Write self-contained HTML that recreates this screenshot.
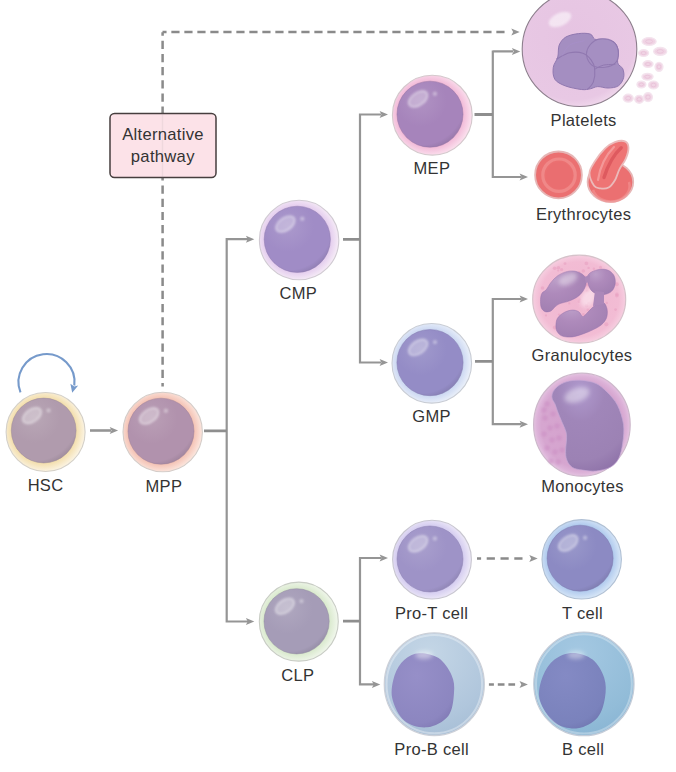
<!DOCTYPE html>
<html><head><meta charset="utf-8"><style>
html,body{margin:0;padding:0;background:#fff;}
svg{display:block;}
text{font-family:"Liberation Sans",sans-serif;fill:#333333;letter-spacing:0.3px;}
</style></head><body>
<svg width="676" height="772" viewBox="0 0 676 772">
<defs>
<filter id="blur2" x="-50%" y="-50%" width="200%" height="200%"><feGaussianBlur stdDeviation="2"/></filter>
<filter id="blur1" x="-50%" y="-50%" width="200%" height="200%"><feGaussianBlur stdDeviation="1"/></filter>
<filter id="blur05" x="-20%" y="-20%" width="140%" height="140%"><feGaussianBlur stdDeviation="0.5"/></filter>
</defs>
<g stroke="#959595" stroke-width="2.2" fill="none">
<path d="M226.7,238 V622.5 M226.7,239.2 H248 M226.7,621.5 H248"/>
<path d="M360,113.5 V363.5 M360,114.5 H381 M360,362.5 H381"/>
<path d="M492.8,50.5 V178 M492.8,51.4 H513 M492.8,177 H521"/>
<path d="M492.8,298 V425.2 M492.8,299 H521 M492.8,424.2 H521"/>
<path d="M360,557 V685.4 M360,558 H381 M360,684.4 H374"/>
<path d="M204,430.8 H226.7 M343,239.3 H360 M474.5,114.5 H492.8 M475,361.3 H492.8 M343,621.2 H360" stroke-width="2.8" stroke="#8e8e8e"/>
<path d="M90,430.5 H111" stroke-width="2.6"/>
</g>
<g stroke="#8a8a8a" stroke-width="2.5" fill="none">
<path d="M162.6,386.5 V32.2" stroke-dasharray="8.2 4.96" stroke-dashoffset="4.66"/>
<path d="M162.5,32 H508" stroke-dasharray="8.2 4.8" stroke-dashoffset="4.15"/>
<path d="M477,558.5 H525" stroke-dasharray="8.2 5.6" stroke-dashoffset="4.1"/>
<path d="M488.9,684.4 H515.5" stroke-dasharray="6.7 3.9" stroke-dashoffset="1.7"/>
</g>
<path d="M254.3,239.2 L245.9,235.7 L247.70000000000002,239.2 L245.9,242.7 Z" fill="#959595"/>

<path d="M254.3,621.5 L245.9,618.0 L247.70000000000002,621.5 L245.9,625.0 Z" fill="#959595"/>

<path d="M388,114.5 L379.6,111.0 L381.4,114.5 L379.6,118.0 Z" fill="#959595"/>

<path d="M388,362.5 L379.6,359.0 L381.4,362.5 L379.6,366.0 Z" fill="#959595"/>

<path d="M388,558 L379.6,554.5 L381.4,558 L379.6,561.5 Z" fill="#959595"/>

<path d="M380.3,684.4 L371.90000000000003,680.9 L373.7,684.4 L371.90000000000003,687.9 Z" fill="#959595"/>

<path d="M520.3,51.4 L511.9,47.9 L513.6999999999999,51.4 L511.9,54.9 Z" fill="#959595"/>

<path d="M528,177 L519.6,173.5 L521.4,177 L519.6,180.5 Z" fill="#959595"/>

<path d="M528,299 L519.6,295.5 L521.4,299 L519.6,302.5 Z" fill="#959595"/>

<path d="M528,424.2 L519.6,420.7 L521.4,424.2 L519.6,427.7 Z" fill="#959595"/>

<path d="M118.1,430.5 L109.69999999999999,427.0 L111.5,430.5 L109.69999999999999,434.0 Z" fill="#959595"/>

<path d="M519.7,32 L511.30000000000007,28.5 L513.1,32 L511.30000000000007,35.5 Z" fill="#959595"/>

<path d="M537.7,558.5 L529.3000000000001,555.0 L531.1,558.5 L529.3000000000001,562.0 Z" fill="#959595"/>

<path d="M527.9,684.4 L519.5,680.9 L521.3,684.4 L519.5,687.9 Z" fill="#959595"/>

<path d="M20.5,392.3 A28,28 0 1 1 74.3,385.5" stroke="#769acb" stroke-width="2.1" fill="none"/>
<path d="M72.2,392.8 L70.4,383.8 L74.3,386.6 L78.2,385.6 Z" fill="#769acb"/>
<rect x="110" y="113.5" width="106" height="64" rx="4.5" fill="#fce2e8" stroke="#463e3e" stroke-width="1.5"/>
<line x1="162.5" y1="113.5" x2="162.5" y2="177.5" stroke="#959595" stroke-width="1.5" opacity="0.12"/>
<text x="163" y="140" font-size="16.6" text-anchor="middle">Alternative</text>

<text x="162.8" y="161.7" font-size="16.6" text-anchor="middle">pathway</text>


<radialGradient id="chsc" gradientUnits="userSpaceOnUse" cx="43.7" cy="430.5" r="41.8">
  <stop offset="0" stop-color="#f3deac"/>
  <stop offset="0.775" stop-color="#f3deac"/>
  <stop offset="1" stop-color="#fcf5e6"/>
</radialGradient>
<radialGradient id="nhsc" cx="0.36" cy="0.3" r="0.78">
  <stop offset="0" stop-color="#b9a7b6"/>
  <stop offset="0.5" stop-color="#b09bad"/>
  <stop offset="0.85" stop-color="#b09bad"/>
  <stop offset="1" stop-color="#9a8898"/>
</radialGradient>
<circle cx="45.6" cy="432" r="39.5" fill="url(#chsc)" stroke="#d4d0c8" stroke-width="1.1"/>
<circle cx="43.7" cy="430.5" r="32.4" fill="url(#nhsc)" stroke="#9a8898" stroke-width="0.9" stroke-opacity="0.55"/>
<ellipse cx="32.0" cy="415.6" rx="10.4" ry="6.2" transform="rotate(-35 32.0 415.6)" fill="#ffffff" fill-opacity="0.28" stroke="#ffffff" stroke-width="1.6" stroke-opacity="0.45" filter="url(#blur1)"/>
<circle cx="48.6" cy="410.4" r="2.2" fill="#ffffff" opacity="0.35" filter="url(#blur1)"/>

<radialGradient id="cmpp" gradientUnits="userSpaceOnUse" cx="161" cy="431.2" r="41.7">
  <stop offset="0" stop-color="#f4c2b4"/>
  <stop offset="0.791" stop-color="#f4c2b4"/>
  <stop offset="1" stop-color="#fce8e0"/>
</radialGradient>
<radialGradient id="nmpp" cx="0.36" cy="0.3" r="0.78">
  <stop offset="0" stop-color="#ba9fb6"/>
  <stop offset="0.5" stop-color="#b192ad"/>
  <stop offset="0.85" stop-color="#b192ad"/>
  <stop offset="1" stop-color="#9b8098"/>
</radialGradient>
<circle cx="162.7" cy="432" r="39.7" fill="url(#cmpp)" stroke="#d4ccc8" stroke-width="1.1"/>
<circle cx="161" cy="431.2" r="33" fill="url(#nmpp)" stroke="#9b8098" stroke-width="0.9" stroke-opacity="0.55"/>
<ellipse cx="149.1" cy="416.0" rx="10.6" ry="6.3" transform="rotate(-35 149.1 416.0)" fill="#ffffff" fill-opacity="0.28" stroke="#ffffff" stroke-width="1.6" stroke-opacity="0.45" filter="url(#blur1)"/>
<circle cx="165.9" cy="410.7" r="2.2" fill="#ffffff" opacity="0.35" filter="url(#blur1)"/>

<radialGradient id="ccmp" gradientUnits="userSpaceOnUse" cx="297.3" cy="239.3" r="41.9">
  <stop offset="0" stop-color="#e4cdee"/>
  <stop offset="0.791" stop-color="#e4cdee"/>
  <stop offset="1" stop-color="#f7eef7"/>
</radialGradient>
<radialGradient id="ncmp" cx="0.36" cy="0.3" r="0.78">
  <stop offset="0" stop-color="#ab99cc"/>
  <stop offset="0.5" stop-color="#a08cc6"/>
  <stop offset="0.85" stop-color="#a08cc6"/>
  <stop offset="1" stop-color="#8c7bae"/>
</radialGradient>
<circle cx="299.1" cy="240" r="39.7" fill="url(#ccmp)" stroke="#d0cad2" stroke-width="1.1"/>
<circle cx="297.3" cy="239.3" r="33.1" fill="url(#ncmp)" stroke="#8c7bae" stroke-width="0.9" stroke-opacity="0.55"/>
<ellipse cx="285.4" cy="224.1" rx="10.6" ry="6.3" transform="rotate(-35 285.4 224.1)" fill="#ffffff" fill-opacity="0.28" stroke="#ffffff" stroke-width="1.6" stroke-opacity="0.45" filter="url(#blur1)"/>
<circle cx="302.3" cy="218.8" r="2.2" fill="#ffffff" opacity="0.35" filter="url(#blur1)"/>

<radialGradient id="cmep" gradientUnits="userSpaceOnUse" cx="430" cy="114.2" r="42.7">
  <stop offset="0" stop-color="#f2bad8"/>
  <stop offset="0.774" stop-color="#f2bad8"/>
  <stop offset="1" stop-color="#fce4f0"/>
</radialGradient>
<radialGradient id="nmep" cx="0.36" cy="0.3" r="0.78">
  <stop offset="0" stop-color="#b092c3"/>
  <stop offset="0.5" stop-color="#a684bb"/>
  <stop offset="0.85" stop-color="#a684bb"/>
  <stop offset="1" stop-color="#9274a4"/>
</radialGradient>
<circle cx="432.3" cy="115.2" r="39.9" fill="url(#cmep)" stroke="#d4c8cc" stroke-width="1.1"/>
<circle cx="430" cy="114.2" r="33" fill="url(#nmep)" stroke="#9274a4" stroke-width="0.9" stroke-opacity="0.55"/>
<ellipse cx="418.1" cy="99.0" rx="10.6" ry="6.3" transform="rotate(-35 418.1 99.0)" fill="#ffffff" fill-opacity="0.28" stroke="#ffffff" stroke-width="1.6" stroke-opacity="0.45" filter="url(#blur1)"/>
<circle cx="434.9" cy="93.7" r="2.2" fill="#ffffff" opacity="0.35" filter="url(#blur1)"/>

<radialGradient id="cgmp" gradientUnits="userSpaceOnUse" cx="430" cy="362.6" r="42.0">
  <stop offset="0" stop-color="#ccd8f2"/>
  <stop offset="0.789" stop-color="#ccd8f2"/>
  <stop offset="1" stop-color="#edf2fa"/>
</radialGradient>
<radialGradient id="ngmp" cx="0.36" cy="0.3" r="0.78">
  <stop offset="0" stop-color="#a099cc"/>
  <stop offset="0.5" stop-color="#948cc6"/>
  <stop offset="0.85" stop-color="#948cc6"/>
  <stop offset="1" stop-color="#827bae"/>
</radialGradient>
<circle cx="431.8" cy="363.3" r="39.8" fill="url(#cgmp)" stroke="#c8ccd4" stroke-width="1.1"/>
<circle cx="430" cy="362.6" r="33.1" fill="url(#ngmp)" stroke="#827bae" stroke-width="0.9" stroke-opacity="0.55"/>
<ellipse cx="418.1" cy="347.4" rx="10.6" ry="6.3" transform="rotate(-35 418.1 347.4)" fill="#ffffff" fill-opacity="0.28" stroke="#ffffff" stroke-width="1.6" stroke-opacity="0.45" filter="url(#blur1)"/>
<circle cx="435.0" cy="342.1" r="2.2" fill="#ffffff" opacity="0.35" filter="url(#blur1)"/>

<radialGradient id="cclp" gradientUnits="userSpaceOnUse" cx="296.6" cy="621.3" r="42.1">
  <stop offset="0" stop-color="#d9e9cd"/>
  <stop offset="0.774" stop-color="#d9e9cd"/>
  <stop offset="1" stop-color="#f3f8ef"/>
</radialGradient>
<radialGradient id="nclp" cx="0.36" cy="0.3" r="0.78">
  <stop offset="0" stop-color="#afa7bf"/>
  <stop offset="0.5" stop-color="#a59cb7"/>
  <stop offset="0.85" stop-color="#a59cb7"/>
  <stop offset="1" stop-color="#9189a1"/>
</radialGradient>
<circle cx="298.8" cy="621.6" r="39.5" fill="url(#cclp)" stroke="#c8ccc4" stroke-width="1.1"/>
<circle cx="296.6" cy="621.3" r="32.6" fill="url(#nclp)" stroke="#9189a1" stroke-width="0.9" stroke-opacity="0.55"/>
<ellipse cx="284.9" cy="606.3" rx="10.4" ry="6.2" transform="rotate(-35 284.9 606.3)" fill="#ffffff" fill-opacity="0.28" stroke="#ffffff" stroke-width="1.6" stroke-opacity="0.45" filter="url(#blur1)"/>
<circle cx="301.5" cy="601.1" r="2.2" fill="#ffffff" opacity="0.35" filter="url(#blur1)"/>

<radialGradient id="cprot" gradientUnits="userSpaceOnUse" cx="430" cy="559" r="41.8">
  <stop offset="0" stop-color="#d4ccf0"/>
  <stop offset="0.789" stop-color="#d4ccf0"/>
  <stop offset="1" stop-color="#f0ecf8"/>
</radialGradient>
<radialGradient id="nprot" cx="0.36" cy="0.3" r="0.78">
  <stop offset="0" stop-color="#a99fcd"/>
  <stop offset="0.5" stop-color="#9e93c7"/>
  <stop offset="0.85" stop-color="#9e93c7"/>
  <stop offset="1" stop-color="#8b81af"/>
</radialGradient>
<circle cx="432" cy="559.6" r="39.4" fill="url(#cprot)" stroke="#c8c6d0" stroke-width="1.1"/>
<circle cx="430" cy="559" r="33" fill="url(#nprot)" stroke="#8b81af" stroke-width="0.9" stroke-opacity="0.55"/>
<ellipse cx="418.1" cy="543.8" rx="10.6" ry="6.3" transform="rotate(-35 418.1 543.8)" fill="#ffffff" fill-opacity="0.28" stroke="#ffffff" stroke-width="1.6" stroke-opacity="0.45" filter="url(#blur1)"/>
<circle cx="434.9" cy="538.5" r="2.2" fill="#ffffff" opacity="0.35" filter="url(#blur1)"/>

<radialGradient id="ct" gradientUnits="userSpaceOnUse" cx="580.1" cy="558.2" r="41.6">
  <stop offset="0" stop-color="#b0caee"/>
  <stop offset="0.793" stop-color="#b0caee"/>
  <stop offset="1" stop-color="#dae8f7"/>
</radialGradient>
<radialGradient id="nt" cx="0.36" cy="0.3" r="0.78">
  <stop offset="0" stop-color="#9998ca"/>
  <stop offset="0.5" stop-color="#8c8ac3"/>
  <stop offset="0.85" stop-color="#8c8ac3"/>
  <stop offset="1" stop-color="#7b79ab"/>
</radialGradient>
<circle cx="581.7" cy="559.3" r="39.7" fill="url(#ct)" stroke="#b0c0d4" stroke-width="1.1"/>
<circle cx="580.1" cy="558.2" r="33" fill="url(#nt)" stroke="#7b79ab" stroke-width="0.9" stroke-opacity="0.55"/>
<ellipse cx="568.2" cy="543.0" rx="10.6" ry="6.3" transform="rotate(-35 568.2 543.0)" fill="#ffffff" fill-opacity="0.28" stroke="#ffffff" stroke-width="1.6" stroke-opacity="0.45" filter="url(#blur1)"/>
<circle cx="585.1" cy="537.7" r="2.2" fill="#ffffff" opacity="0.35" filter="url(#blur1)"/>

<radialGradient id="nprob" cx="0.4" cy="0.3" r="0.8"><stop offset="0" stop-color="#968fc8"/><stop offset="0.8" stop-color="#8c86c0"/><stop offset="1" stop-color="#7e78b2"/></radialGradient>
<radialGradient id="cprob" cx="0.45" cy="0.2" r="0.9"><stop offset="0" stop-color="#c4d6e6"/><stop offset="0.7" stop-color="#b0c6dc"/><stop offset="1" stop-color="#a4bcd4"/></radialGradient>
<ellipse cx="434.3" cy="684.2" rx="50" ry="51.3" fill="url(#cprob)" stroke="#ccd0d8" stroke-width="1.3"/>
<path d="M419.1,653.2 C424.8,652.9 433.2,654.4 438.6,658.1 C444.0,661.8 449.0,669.4 451.6,675.2 C454.2,681.0 454.6,686.3 454.0,693.1 C453.4,699.9 452.8,710.2 448.3,715.9 C443.8,721.6 434.5,726.5 427.2,727.3 C419.9,728.1 410.2,725.7 404.4,720.8 C398.6,715.9 393.8,705.6 392.2,698.0 C390.6,690.4 392.6,681.6 394.6,675.2 C396.6,668.8 400.3,663.4 404.4,659.7 C408.5,656.0 413.4,653.5 419.1,653.2 Z" fill="url(#nprob)"/>
<radialGradient id="nb" cx="0.4" cy="0.3" r="0.8"><stop offset="0" stop-color="#848ac4"/><stop offset="0.8" stop-color="#7a82bc"/><stop offset="1" stop-color="#6e74ae"/></radialGradient>
<radialGradient id="cb" cx="0.45" cy="0.2" r="0.9"><stop offset="0" stop-color="#a4c8e2"/><stop offset="0.7" stop-color="#92bcd8"/><stop offset="1" stop-color="#86b2d2"/></radialGradient>
<ellipse cx="583.9" cy="683.9" rx="50.1" ry="51.8" fill="url(#cb)" stroke="#c4ccd8" stroke-width="1.3"/>
<path d="M572.7,652.9 C579.1,652.9 587.4,655.4 592.6,659.5 C597.9,663.6 602.1,671.4 604.2,677.7 C606.3,684.1 606.1,691.0 605.0,697.6 C603.9,704.2 602.1,712.4 597.6,717.5 C593.1,722.6 584.9,727.4 577.7,728.2 C570.5,729.0 560.9,727.2 554.5,722.4 C548.1,717.6 541.5,706.9 539.6,699.2 C537.7,691.5 540.4,682.6 542.9,676.0 C545.4,669.4 549.5,663.4 554.5,659.5 C559.5,655.6 566.4,652.9 572.7,652.9 Z" fill="url(#nb)"/>
<ellipse cx="434.3" cy="684.2" rx="47.8" ry="49.1" fill="none" stroke="#ffffff" stroke-width="2" opacity="0.35" filter="url(#blur05)"/>
<ellipse cx="583.9" cy="683.9" rx="47.9" ry="49.6" fill="none" stroke="#ffffff" stroke-width="2" opacity="0.3" filter="url(#blur05)"/>
<ellipse cx="424" cy="655" rx="9" ry="4" fill="#ffffff" opacity="0.45" filter="url(#blur2)"/>
<ellipse cx="576" cy="655" rx="9" ry="4" fill="#ffffff" opacity="0.4" filter="url(#blur2)"/>
<radialGradient id="cmk" cx="0.45" cy="0.4" r="0.6"><stop offset="0" stop-color="#e6c4e2"/><stop offset="0.9" stop-color="#e8c8e4"/><stop offset="1" stop-color="#eed4ea"/></radialGradient>
<ellipse cx="579.5" cy="49" rx="57.3" ry="57.5" fill="url(#cmk)" stroke="#8c7e8c" stroke-width="1.1"/>
<ellipse cx="560" cy="19.5" rx="12" ry="6.5" transform="rotate(-25 560 19.5)" fill="#ffffff" opacity="0.55" filter="url(#blur1)"/>
<path d="M559.2,45.1 C560.6,41.8 562.7,38.9 565.9,37.0 C569.1,35.1 574.4,34.1 578.5,33.6 C582.5,33.1 587.6,33.1 590.3,34.1 C593.0,35.0 592.8,38.4 594.7,39.2 C596.7,40.1 598.9,38.7 602.1,39.2 C605.3,39.7 611.3,40.2 614.0,42.2 C616.7,44.2 617.8,47.6 618.4,51.1 C619.0,54.5 616.9,59.9 617.7,62.9 C618.4,65.9 621.9,66.4 622.8,68.8 C623.8,71.3 624.3,74.9 623.6,77.7 C622.8,80.5 621.0,84.1 618.4,85.8 C615.8,87.6 611.5,87.9 608.0,88.0 C604.6,88.2 600.7,86.4 597.7,86.6 C594.7,86.7 593.0,88.3 590.3,88.8 C587.6,89.3 585.6,90.0 581.4,89.5 C577.2,89.0 569.6,87.6 565.1,85.8 C560.7,84.1 556.8,82.3 554.8,79.2 C552.8,76.1 552.8,71.0 553.3,67.3 C553.8,63.6 556.8,60.7 557.8,57.0 C558.7,53.3 557.9,48.5 559.2,45.1 Z" fill="#a48ec1" stroke="#9078b0" stroke-width="1"/>
<path d="M587.3,49.6 C588.6,46.6 591.8,42.5 594.7,40.7 C597.7,38.9 601.8,38.6 605.1,38.9 C608.4,39.3 612.5,40.5 614.7,42.9 C616.9,45.3 618.3,50.0 618.4,53.3 C618.5,56.6 617.7,60.6 615.4,62.9 C613.2,65.2 608.8,66.8 605.1,67.3 C601.4,67.8 596.2,67.3 593.3,65.9 C590.3,64.4 588.3,61.2 587.3,58.5 C586.4,55.7 586.1,52.5 587.3,49.6 Z" fill="#a690c3" stroke="#9078b0" stroke-width="1.1" opacity="0.9"/>
<path d="M556.3,59.2 C558.5,58.1 565.1,53.8 569.6,52.8 C574.0,51.9 579.3,52.1 582.9,53.3 C586.5,54.5 589.1,57.4 591.0,59.9 C593.0,62.5 594.4,65.1 594.7,68.8 C595.1,72.5 594.5,78.7 593.3,82.1 C592.0,85.6 588.3,88.3 587.3,89.5 " fill="none" stroke="#9078b0" stroke-width="1.1"/>
<path d="M594.0,69.6 C595.6,68.8 600.0,66.0 603.6,65.1 C607.2,64.3 613.5,64.5 615.4,64.4 " fill="none" stroke="#9078b0" stroke-width="1"/>
<path d="M562.2,55.5 C563.4,53.8 565.9,47.6 569.6,45.1 C573.3,42.7 581.9,41.4 584.4,40.7 " fill="none" stroke="#a890cc" stroke-width="1" opacity="0.6"/>
<ellipse cx="649.1" cy="41.5" rx="7" ry="3.9" fill="#f0d4e4" stroke="#f4e4ee" stroke-width="1.4"/>
<ellipse cx="649.1" cy="41.5" rx="3.5" ry="1.8" fill="none" stroke="#e6bcd4" stroke-width="0.8" opacity="0.8"/>
<ellipse cx="643.6" cy="53.1" rx="5" ry="3.3" fill="#f0d4e4" stroke="#f4e4ee" stroke-width="1.4"/>
<ellipse cx="643.6" cy="53.1" rx="2.5" ry="1.5" fill="none" stroke="#e6bcd4" stroke-width="0.8" opacity="0.8"/>
<ellipse cx="660.2" cy="51.4" rx="6.5" ry="3.9" fill="#f0d4e4" stroke="#f4e4ee" stroke-width="1.4"/>
<ellipse cx="660.2" cy="51.4" rx="3.2" ry="1.8" fill="none" stroke="#e6bcd4" stroke-width="0.8" opacity="0.8"/>
<ellipse cx="648" cy="64.1" rx="5" ry="3.3" fill="#f0d4e4" stroke="#f4e4ee" stroke-width="1.4"/>
<ellipse cx="648" cy="64.1" rx="2.5" ry="1.5" fill="none" stroke="#e6bcd4" stroke-width="0.8" opacity="0.8"/>
<ellipse cx="659" cy="66.8" rx="3.9" ry="4.4" fill="#f0d4e4" stroke="#f4e4ee" stroke-width="1.4"/>
<ellipse cx="659" cy="66.8" rx="1.9" ry="2.0" fill="none" stroke="#e6bcd4" stroke-width="0.8" opacity="0.8"/>
<ellipse cx="647.5" cy="76.8" rx="5.5" ry="3.3" fill="#f0d4e4" stroke="#f4e4ee" stroke-width="1.4"/>
<ellipse cx="647.5" cy="76.8" rx="2.8" ry="1.5" fill="none" stroke="#e6bcd4" stroke-width="0.8" opacity="0.8"/>
<ellipse cx="641.4" cy="84.5" rx="4.4" ry="3.3" fill="#f0d4e4" stroke="#f4e4ee" stroke-width="1.4"/>
<ellipse cx="641.4" cy="84.5" rx="2.2" ry="1.5" fill="none" stroke="#e6bcd4" stroke-width="0.8" opacity="0.8"/>
<ellipse cx="653.5" cy="85" rx="5" ry="3.9" fill="#f0d4e4" stroke="#f4e4ee" stroke-width="1.4"/>
<ellipse cx="653.5" cy="85" rx="2.5" ry="1.8" fill="none" stroke="#e6bcd4" stroke-width="0.8" opacity="0.8"/>
<ellipse cx="628.2" cy="98.2" rx="5" ry="3.9" fill="#f0d4e4" stroke="#f4e4ee" stroke-width="1.4"/>
<ellipse cx="628.2" cy="98.2" rx="2.5" ry="1.8" fill="none" stroke="#e6bcd4" stroke-width="0.8" opacity="0.8"/>
<ellipse cx="639.2" cy="99.3" rx="4.4" ry="3.9" fill="#f0d4e4" stroke="#f4e4ee" stroke-width="1.4"/>
<ellipse cx="639.2" cy="99.3" rx="2.2" ry="1.8" fill="none" stroke="#e6bcd4" stroke-width="0.8" opacity="0.8"/>
<ellipse cx="648" cy="97.1" rx="4.4" ry="4.4" fill="#f0d4e4" stroke="#f4e4ee" stroke-width="1.4"/>
<ellipse cx="648" cy="97.1" rx="2.2" ry="2.0" fill="none" stroke="#e6bcd4" stroke-width="0.8" opacity="0.8"/>
<circle cx="558.5" cy="174.9" r="23.4" fill="#eb7071" stroke="#e6b6b6" stroke-width="1.8"/>
<circle cx="559" cy="175.2" r="16.2" fill="none" stroke="#f29090" stroke-width="3.2" opacity="0.75" filter="url(#blur05)"/>
<circle cx="559.3" cy="175.5" r="13.2" fill="#ea6e70"/>
<ellipse cx="610.4" cy="182" rx="22.8" ry="19.8" fill="#eb7071" stroke="#e6b6b6" stroke-width="1.8"/>
<path d="M593,190 A18,15 0 0 0 629,182" fill="none" stroke="#f29090" stroke-width="2.5" opacity="0.7" filter="url(#blur05)"/>
<path d="M594.1,185.7 C592.3,183.1 589.4,177.1 589.5,173.0 C589.6,168.9 592.4,165.4 595.0,161.3 C597.6,157.2 601.6,151.8 604.9,148.6 C608.2,145.4 611.6,143.4 614.9,142.2 C618.2,141.0 622.6,140.4 624.9,141.3 C627.2,142.2 628.4,144.8 628.5,147.7 C628.6,150.6 627.3,155.0 625.8,158.6 C624.3,162.2 621.2,165.8 619.4,169.4 C617.6,173.0 616.7,177.3 614.9,180.3 C613.1,183.3 611.0,186.2 608.6,187.5 C606.2,188.8 602.8,188.7 600.4,188.4 C598.0,188.1 595.9,188.3 594.1,185.7 Z" fill="#ee7474" stroke="#ebbaba" stroke-width="1.8"/>
<path d="M598,180 Q601,160 614,147" fill="none" stroke="#f6a2a2" stroke-width="2.2" stroke-linecap="round" opacity="0.8" filter="url(#blur05)"/>
<path d="M604,177.6 Q610,158 621.2,147.7" fill="none" stroke="#dc565c" stroke-width="3.4" stroke-linecap="round" opacity="0.85" filter="url(#blur05)"/>
<radialGradient id="cgr" cx="0.5" cy="0.5" r="0.5"><stop offset="0" stop-color="#f0b6d0"/><stop offset="0.85" stop-color="#f2bcd4"/><stop offset="1" stop-color="#f6cee0"/></radialGradient>
<ellipse cx="579.2" cy="299.2" rx="46.5" ry="44" fill="url(#cgr)" stroke="#d6c2ca" stroke-width="1.2"/>
<circle cx="572.1" cy="312.7" r="1.7" fill="#e89ec0" opacity="0.55"/>
<circle cx="606.2" cy="311.7" r="1.4" fill="#e89ec0" opacity="0.55"/>
<circle cx="606.5" cy="309.1" r="1.0" fill="#e89ec0" opacity="0.55"/>
<circle cx="569.3" cy="303.4" r="1.1" fill="#e89ec0" opacity="0.55"/>
<circle cx="546.0" cy="315.4" r="1.1" fill="#e89ec0" opacity="0.55"/>
<circle cx="584.6" cy="329.6" r="1.9" fill="#e89ec0" opacity="0.55"/>
<circle cx="556.3" cy="287.8" r="2.0" fill="#e89ec0" opacity="0.55"/>
<circle cx="615.6" cy="309.6" r="1.3" fill="#e89ec0" opacity="0.55"/>
<circle cx="587.9" cy="309.7" r="1.3" fill="#e89ec0" opacity="0.55"/>
<circle cx="586.2" cy="284.1" r="1.6" fill="#e89ec0" opacity="0.55"/>
<circle cx="563.1" cy="281.0" r="1.5" fill="#e89ec0" opacity="0.55"/>
<circle cx="588.4" cy="302.9" r="1.2" fill="#e89ec0" opacity="0.55"/>
<circle cx="567.8" cy="276.1" r="1.3" fill="#e89ec0" opacity="0.55"/>
<circle cx="555.5" cy="285.8" r="1.3" fill="#e89ec0" opacity="0.55"/>
<circle cx="588.6" cy="267.9" r="1.2" fill="#e89ec0" opacity="0.55"/>
<circle cx="552.7" cy="286.5" r="1.9" fill="#e89ec0" opacity="0.55"/>
<circle cx="576.4" cy="278.5" r="2.0" fill="#e89ec0" opacity="0.55"/>
<circle cx="598.7" cy="316.2" r="1.8" fill="#e89ec0" opacity="0.55"/>
<circle cx="595.8" cy="321.4" r="1.0" fill="#e89ec0" opacity="0.55"/>
<circle cx="561.6" cy="269.5" r="1.6" fill="#e89ec0" opacity="0.55"/>
<circle cx="595.5" cy="283.8" r="1.7" fill="#e89ec0" opacity="0.55"/>
<circle cx="553.3" cy="282.6" r="1.5" fill="#e89ec0" opacity="0.55"/>
<circle cx="600.5" cy="267.2" r="1.5" fill="#e89ec0" opacity="0.55"/>
<circle cx="574.0" cy="291.0" r="1.7" fill="#e89ec0" opacity="0.55"/>
<circle cx="554.6" cy="268.2" r="1.8" fill="#e89ec0" opacity="0.55"/>
<circle cx="573.7" cy="322.8" r="1.7" fill="#e89ec0" opacity="0.55"/>
<circle cx="606.8" cy="302.9" r="1.2" fill="#e89ec0" opacity="0.55"/>
<circle cx="586.6" cy="305.5" r="1.8" fill="#e89ec0" opacity="0.55"/>
<circle cx="593.2" cy="313.3" r="1.4" fill="#e89ec0" opacity="0.55"/>
<circle cx="587.2" cy="291.2" r="1.4" fill="#e89ec0" opacity="0.55"/>
<circle cx="542.5" cy="288.0" r="1.8" fill="#e89ec0" opacity="0.55"/>
<circle cx="593.4" cy="283.7" r="1.4" fill="#e89ec0" opacity="0.55"/>
<circle cx="554.9" cy="327.6" r="2.0" fill="#e89ec0" opacity="0.55"/>
<circle cx="589.2" cy="312.5" r="1.2" fill="#e89ec0" opacity="0.55"/>
<circle cx="582.2" cy="326.2" r="1.6" fill="#e89ec0" opacity="0.55"/>
<circle cx="579.0" cy="301.7" r="1.4" fill="#e89ec0" opacity="0.55"/>
<circle cx="558.2" cy="320.7" r="2.0" fill="#e89ec0" opacity="0.55"/>
<circle cx="568.4" cy="273.2" r="1.6" fill="#e89ec0" opacity="0.55"/>
<circle cx="574.9" cy="291.1" r="1.9" fill="#e89ec0" opacity="0.55"/>
<circle cx="586.4" cy="263.4" r="1.8" fill="#e89ec0" opacity="0.55"/>
<circle cx="559.0" cy="314.6" r="1.1" fill="#e89ec0" opacity="0.55"/>
<circle cx="572.4" cy="291.9" r="1.1" fill="#e89ec0" opacity="0.55"/>
<circle cx="583.4" cy="314.4" r="1.3" fill="#e89ec0" opacity="0.55"/>
<circle cx="579.8" cy="299.4" r="1.2" fill="#e89ec0" opacity="0.55"/>
<circle cx="599.1" cy="313.2" r="1.0" fill="#e89ec0" opacity="0.55"/>
<circle cx="601.8" cy="277.5" r="1.1" fill="#e89ec0" opacity="0.55"/>
<circle cx="578.9" cy="322.2" r="1.4" fill="#e89ec0" opacity="0.55"/>
<circle cx="606.3" cy="324.2" r="2.0" fill="#e89ec0" opacity="0.55"/>
<circle cx="551.3" cy="304.9" r="1.1" fill="#e89ec0" opacity="0.55"/>
<circle cx="598.4" cy="312.9" r="1.3" fill="#e89ec0" opacity="0.55"/>
<circle cx="587.0" cy="285.4" r="1.0" fill="#e89ec0" opacity="0.55"/>
<circle cx="607.6" cy="290.6" r="1.1" fill="#e89ec0" opacity="0.55"/>
<circle cx="572.7" cy="297.5" r="1.5" fill="#e89ec0" opacity="0.55"/>
<circle cx="616.9" cy="294.3" r="1.7" fill="#e89ec0" opacity="0.55"/>
<circle cx="577.5" cy="322.7" r="1.2" fill="#e89ec0" opacity="0.55"/>
<circle cx="583.3" cy="271.0" r="1.8" fill="#e89ec0" opacity="0.55"/>
<circle cx="569.9" cy="315.3" r="1.8" fill="#e89ec0" opacity="0.55"/>
<circle cx="616.9" cy="295.8" r="1.8" fill="#e89ec0" opacity="0.55"/>
<circle cx="593.9" cy="268.7" r="1.2" fill="#e89ec0" opacity="0.55"/>
<circle cx="554.9" cy="296.6" r="1.0" fill="#e89ec0" opacity="0.55"/>
<circle cx="600.5" cy="302.8" r="1.3" fill="#e89ec0" opacity="0.55"/>
<circle cx="565.0" cy="263.6" r="1.4" fill="#e89ec0" opacity="0.55"/>
<circle cx="616.8" cy="284.3" r="2.0" fill="#e89ec0" opacity="0.55"/>
<circle cx="566.5" cy="312.9" r="1.2" fill="#e89ec0" opacity="0.55"/>
<circle cx="585.3" cy="315.8" r="1.6" fill="#e89ec0" opacity="0.55"/>
<circle cx="609.7" cy="278.3" r="1.5" fill="#e89ec0" opacity="0.55"/>
<circle cx="558.2" cy="270.6" r="1.1" fill="#e89ec0" opacity="0.55"/>
<circle cx="558.4" cy="267.8" r="1.8" fill="#e89ec0" opacity="0.55"/>
<circle cx="579.2" cy="272.3" r="1.2" fill="#e89ec0" opacity="0.55"/>
<circle cx="585.0" cy="277.4" r="1.8" fill="#e89ec0" opacity="0.55"/>
<ellipse cx="588" cy="298" rx="7" ry="10" transform="rotate(30 588 298)" fill="#fbe4ee" opacity="0.75" filter="url(#blur2)"/>
<radialGradient id="ngr" cx="0.3" cy="0.2" r="0.9"><stop offset="0" stop-color="#bc9ec8"/><stop offset="0.4" stop-color="#ae8abb"/><stop offset="1" stop-color="#a07eb0"/></radialGradient>
<path d="M540.5,299.5 C540.6,297.1 541.1,294.6 542.1,293.0 C543.1,291.4 544.7,291.6 546.2,289.8 C547.7,288.0 549.1,284.7 551.0,282.4 C552.9,280.1 555.0,277.6 557.5,275.9 C560.0,274.1 563.0,272.7 565.7,271.9 C568.4,271.1 571.2,270.7 573.8,271.0 C576.4,271.3 579.2,272.4 581.1,273.5 C583.0,274.6 584.4,275.7 585.2,277.5 C586.0,279.3 586.4,281.8 586.0,284.1 C585.6,286.4 584.3,289.2 582.8,291.4 C581.3,293.6 579.4,295.5 577.1,297.1 C574.8,298.7 571.8,300.0 568.9,301.1 C566.0,302.2 562.3,302.7 560.0,303.6 C557.7,304.6 556.6,305.6 555.1,306.8 C553.6,308.0 552.6,310.1 551.0,310.9 C549.4,311.7 546.9,312.2 545.3,311.7 C543.7,311.2 542.1,309.7 541.3,307.7 C540.5,305.7 540.4,301.9 540.5,299.5 Z" fill="url(#ngr)" stroke="#9270aa" stroke-width="0.8" stroke-opacity="0.6"/>
<path d="M587.7,275.9 C588.4,274.3 589.7,273.0 591.7,271.9 C593.7,270.8 597.2,269.7 599.9,269.4 C602.6,269.1 605.7,269.2 608.0,270.2 C610.3,271.1 612.5,273.1 613.7,275.1 C614.9,277.1 615.4,279.9 615.3,282.4 C615.2,284.8 614.2,287.9 612.9,289.8 C611.5,291.7 609.4,293.0 607.2,293.8 C605.0,294.6 602.2,294.9 599.9,294.6 C597.6,294.3 595.1,293.4 593.3,292.2 C591.5,291.0 590.2,289.1 589.3,287.3 C588.4,285.5 588.0,283.5 587.7,281.6 C587.4,279.7 587.0,277.5 587.7,275.9 Z" fill="url(#ngr)" stroke="#9270aa" stroke-width="0.8" stroke-opacity="0.6"/>
<path d="M555.9,326.4 C555.9,324.1 556.1,320.5 557.5,318.2 C558.9,315.9 561.6,313.9 564.1,312.5 C566.6,311.1 569.8,310.2 572.2,310.1 C574.6,310.0 576.9,310.6 578.7,311.7 C580.5,312.8 581.4,316.3 582.8,316.6 C584.1,316.9 585.0,314.9 586.8,313.3 C588.5,311.7 591.1,308.7 593.3,306.8 C595.5,304.9 598.0,302.5 599.9,302.0 C601.8,301.5 603.5,302.2 604.7,303.6 C605.9,305.0 606.9,307.7 607.2,310.1 C607.5,312.5 607.4,315.8 606.4,318.2 C605.4,320.6 603.7,322.8 601.5,324.7 C599.3,326.6 596.3,328.1 593.3,329.6 C590.3,331.1 587.1,332.5 583.6,333.7 C580.1,334.9 575.7,336.5 572.2,336.9 C568.7,337.3 564.9,336.9 562.4,336.1 C559.9,335.3 558.6,333.7 557.5,332.1 C556.4,330.5 555.9,328.7 555.9,326.4 Z" fill="url(#ngr)" stroke="#9270aa" stroke-width="0.8" stroke-opacity="0.6"/>
<path d="M584.5,277 L589.8,275 L589.8,282 L585.5,283 Z" fill="#ac88b9"/>
<path d="M595,291 L604,292 L604,304 L593,306 Z" fill="#ac88b9"/>
<ellipse cx="568" cy="279" rx="10" ry="5.5" transform="rotate(-25 568 279)" fill="#ffffff" opacity="0.4" filter="url(#blur2)"/>
<radialGradient id="cmono" cx="0.5" cy="0.5" r="0.5"><stop offset="0" stop-color="#d4a0cc"/><stop offset="0.84" stop-color="#d6a6d0"/><stop offset="0.93" stop-color="#dcb2d8"/><stop offset="1" stop-color="#e4c2e0"/></radialGradient>
<ellipse cx="581.9" cy="424.7" rx="48.3" ry="51.5" fill="url(#cmono)" stroke="#cdb8cb" stroke-width="1.2"/>
<circle cx="547" cy="404" r="2.8" fill="#c888c0" opacity="0.45" filter="url(#blur1)"/>
<circle cx="553" cy="414" r="2.8" fill="#c888c0" opacity="0.45" filter="url(#blur1)"/>
<circle cx="545" cy="418" r="2.8" fill="#c888c0" opacity="0.45" filter="url(#blur1)"/>
<circle cx="550" cy="428" r="2.8" fill="#c888c0" opacity="0.45" filter="url(#blur1)"/>
<circle cx="557" cy="426" r="2.8" fill="#c888c0" opacity="0.45" filter="url(#blur1)"/>
<circle cx="544" cy="434" r="2.8" fill="#c888c0" opacity="0.45" filter="url(#blur1)"/>
<circle cx="552" cy="440" r="2.8" fill="#c888c0" opacity="0.45" filter="url(#blur1)"/>
<circle cx="559" cy="438" r="2.8" fill="#c888c0" opacity="0.45" filter="url(#blur1)"/>
<circle cx="547" cy="448" r="2.8" fill="#c888c0" opacity="0.45" filter="url(#blur1)"/>
<circle cx="555" cy="452" r="2.8" fill="#c888c0" opacity="0.45" filter="url(#blur1)"/>
<circle cx="562" cy="450" r="2.8" fill="#c888c0" opacity="0.45" filter="url(#blur1)"/>
<circle cx="551" cy="461" r="2.8" fill="#c888c0" opacity="0.45" filter="url(#blur1)"/>
<circle cx="558" cy="462" r="2.8" fill="#c888c0" opacity="0.45" filter="url(#blur1)"/>
<circle cx="544" cy="410" r="2.8" fill="#c888c0" opacity="0.45" filter="url(#blur1)"/>
<radialGradient id="nmono" cx="0.4" cy="0.12" r="0.95"><stop offset="0" stop-color="#b09ace"/><stop offset="0.35" stop-color="#a086b9"/><stop offset="0.8" stop-color="#9c82b4"/><stop offset="1" stop-color="#8e72a8"/></radialGradient>
<path d="M553.2,391.5 C554.5,389.3 556.8,386.8 559.5,385.0 C562.2,383.2 565.6,381.8 569.5,381.0 C573.4,380.2 578.2,380.0 582.6,380.4 C587.0,380.8 591.9,381.6 596.0,383.5 C600.1,385.4 603.4,388.4 607.0,392.0 C610.6,395.6 614.8,399.8 617.5,405.2 C620.2,410.6 622.6,417.9 623.5,424.2 C624.4,430.5 623.5,437.4 622.7,443.1 C621.9,448.8 620.8,454.5 618.7,458.5 C616.7,462.5 614.1,465.1 610.4,467.2 C606.6,469.3 600.8,470.5 596.2,471.0 C591.6,471.5 586.6,470.7 582.6,470.1 C578.6,469.5 575.1,469.2 572.5,467.5 C569.9,465.8 567.9,462.9 566.8,460.0 C565.6,457.1 565.6,453.3 565.6,450.0 C565.6,446.7 566.4,443.0 566.5,440.0 C566.6,437.0 566.8,435.2 566.0,432.0 C565.2,428.8 562.9,424.3 561.5,421.0 C560.1,417.7 558.9,414.8 557.8,412.0 C556.7,409.2 556.0,406.3 555.0,404.0 C554.0,401.7 552.3,400.1 552.0,398.0 C551.7,395.9 552.0,393.7 553.2,391.5 Z" fill="url(#nmono)" stroke="#c4a8d6" stroke-width="1" stroke-opacity="0.7"/>
<ellipse cx="577" cy="395" rx="13" ry="7" transform="rotate(-20 577 395)" fill="#ffffff" opacity="0.4" filter="url(#blur2)"/>
<text x="45.5" y="491.3" font-size="16.5" text-anchor="middle">HSC</text>

<text x="163.9" y="491.8" font-size="16.5" text-anchor="middle">MPP</text>

<text x="298.3" y="298.9" font-size="16.5" text-anchor="middle">CMP</text>

<text x="431.9" y="173.6" font-size="16.5" text-anchor="middle">MEP</text>

<text x="431.6" y="421.9" font-size="16.5" text-anchor="middle">GMP</text>

<text x="297.8" y="680.7" font-size="16.5" text-anchor="middle">CLP</text>

<text x="431.6" y="618.8" font-size="16.5" text-anchor="middle">Pro-T cell</text>

<text x="582.4" y="618.7" font-size="16.5" text-anchor="middle">T cell</text>

<text x="431.6" y="755" font-size="16.5" text-anchor="middle">Pro-B cell</text>

<text x="583.2" y="754.5" font-size="16.5" text-anchor="middle">B cell</text>

<text x="583.6" y="126.1" font-size="16.5" text-anchor="middle">Platelets</text>

<text x="583.6" y="219.5" font-size="16.5" text-anchor="middle">Erythrocytes</text>

<text x="582" y="360.5" font-size="16.5" text-anchor="middle">Granulocytes</text>

<text x="582.5" y="491.6" font-size="16.5" text-anchor="middle">Monocytes</text>

</svg>
</body></html>
